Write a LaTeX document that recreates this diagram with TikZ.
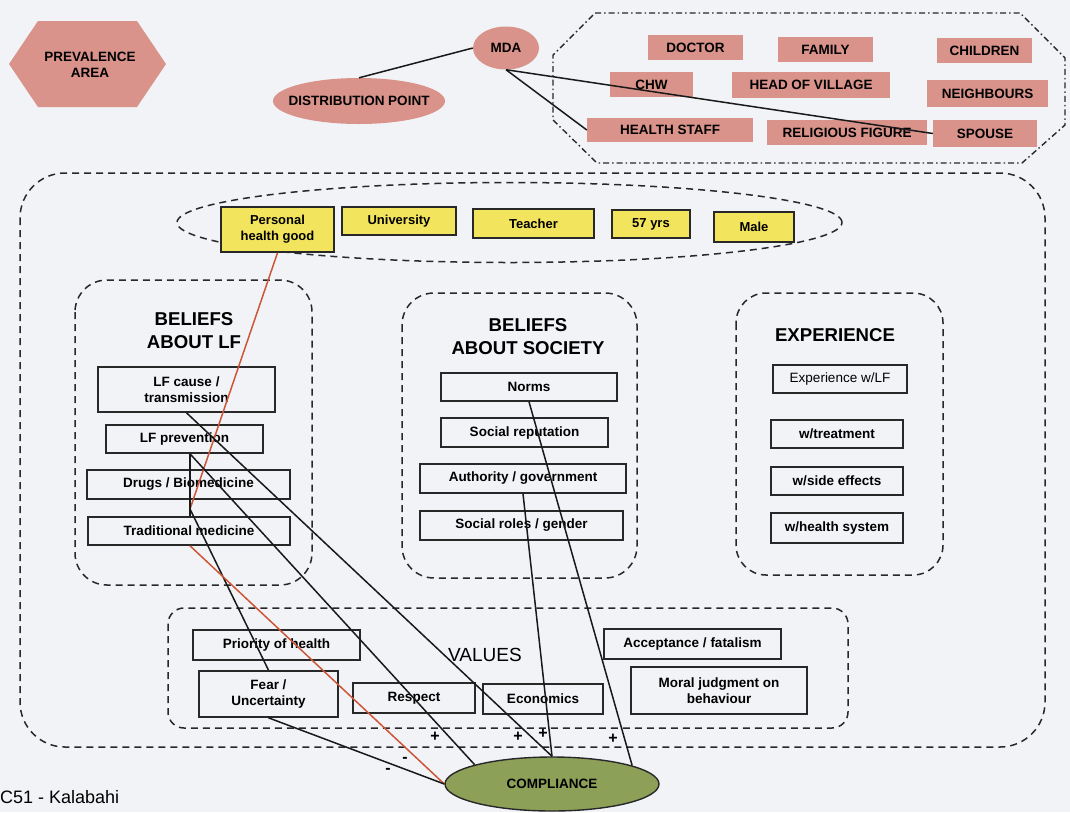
\documentclass[tikz,border=0pt]{standalone}
\usepackage{fontspec}
\setmainfont{Liberation Sans}
\usetikzlibrary{shapes.geometric}

\definecolor{paper}{RGB}{242,243,247}
\definecolor{salmon}{RGB}{217,147,139}
\definecolor{boxyellow}{RGB}{242,228,92}
\definecolor{olive}{RGB}{140,160,88}
\definecolor{redline}{RGB}{204,86,56}
\definecolor{darkline}{RGB}{40,40,40}

\begin{document}
\begin{tikzpicture}[x=1pt,y=-1pt,
  boxfont/.style={font=\fontsize{13.5}{16}\selectfont\bfseries},
  pinkbox/.style={rectangle,fill=salmon,inner sep=0pt,boxfont},
  pinkoval/.style={ellipse,fill=salmon,inner sep=0pt,boxfont},
  factbox/.style={rectangle,draw=darkline,line width=1.6pt,fill=boxyellow,inner sep=0pt,align=center,font=\fontsize{13}{16}\selectfont\bfseries},
  itembox/.style={rectangle,draw=darkline,line width=1.6pt,inner sep=0pt,align=center,boxfont},
  grpbox/.style={draw=darkline,line width=1.5pt,dash pattern=on 7pt off 5pt},
  ttl/.style={align=center,font=\fontsize{18.6}{23}\selectfont\bfseries},
  link/.style={draw=black!90,line width=1.5pt},
  redlink/.style={draw=redline,line width=1.5pt},
  sign/.style={inner sep=0pt,font=\fontsize{16}{16}\selectfont\bfseries}]
  \useasboundingbox (0,0) rectangle (1070,812);
  \fill[paper] (0,0) rectangle (1070,812);

  % top row: area, distribution, sources
  \fill[salmon] (9,64) -- (38,21) -- (137,21) -- (166,64) -- (137,107) -- (38,107) -- cycle;
  \node[align=center,boxfont] (area) at (90,65) {PREVALENCE\\AREA};
  \node[pinkoval,minimum width=172,minimum height=46,
    label={[boxfont]center:DISTRIBUTION POINT}] (distpt) at (359,101) {};
  \node[pinkoval,minimum width=66,minimum height=43] (mda) at (506,48) {MDA};
  \draw[darkline,line width=1.4pt,dash pattern=on 6pt off 3pt on 1.5pt off 3pt]
    (595,13) -- (1020,13) -- (1065,58) -- (1065,125) -- (1022,163) -- (597,163) -- (553,120) -- (553,55) -- cycle;
  \foreach \nm/\cx/\cy/\w/\h/\txt in {doctor/695.5/47.5/95/25/DOCTOR,family/825.5/49.5/95/25/FAMILY,
      children/984.5/50.5/95/25/CHILDREN,chw/651.5/84.5/83/25/CHW,head/811/85/158/26/HEAD OF VILLAGE,
      neighbours/987.5/93.5/121/27/NEIGHBOURS,healthstaff/670/130/166/24/HEALTH STAFF,
      religious/847/132.5/160/25/RELIGIOUS FIGURE,spouse/985/133.5/104/27/SPOUSE}
    \node[pinkbox,minimum width=\w,minimum height=\h] (\nm) at (\cx,\cy) {\txt};

  % frames
  \draw[grpbox,rounded corners=45] (20,173) rectangle (1045,747);
  \node[ellipse,grpbox,inner sep=0pt,minimum width=665,minimum height=80] (profile) at (509.5,222.5) {};
  \draw[grpbox,rounded corners=32] (75,280) rectangle (312,585);
  \draw[grpbox,rounded corners=32] (402,293) rectangle (637,578);
  \draw[grpbox,rounded corners=30] (736,293) rectangle (943,575);
  \draw[grpbox,rounded corners=16] (168,608) rectangle (848,728);

  % personal profile
  \node[factbox,minimum width=113,minimum height=45] (personal) at (277.5,229.5) {Personal\\health good};
  \node[factbox,minimum width=114,minimum height=28] (university) at (399,221) {University};
  \node[factbox,minimum width=121,minimum height=29] (teacher) at (533.5,223.5) {Teacher};
  \node[factbox,minimum width=78,minimum height=28] (age) at (651,224) {57 yrs};
  \node[factbox,minimum width=80,minimum height=30] (male) at (754,227) {Male};

  % beliefs about LF
  \node[ttl] (lftitle) at (194,331) {BELIEFS\\ABOUT LF};
  \node[itembox,minimum width=177,minimum height=45] (lfcause) at (186.5,389.5) {LF cause /\\transmission};
  \node[itembox,minimum width=157,minimum height=28] (prevent) at (184.5,439) {LF prevention};
  \node[itembox,minimum width=203,minimum height=29] (drugs) at (188.5,484.5) {Drugs / Biomedicine};
  \node[itembox,minimum width=202,minimum height=28] (trad) at (189,531) {Traditional medicine};

  % beliefs about society
  \node[ttl] (soctitle) at (528,337) {BELIEFS\\ABOUT SOCIETY};
  \node[itembox,minimum width=176,minimum height=28] (norms) at (529,387) {Norms};
  \node[itembox,minimum width=167,minimum height=29] (reput) at (524.5,432.5) {Social reputation};
  \node[itembox,minimum width=206,minimum height=29] (authority) at (523,478.5) {Authority / government};
  \node[itembox,minimum width=203,minimum height=29] (roles) at (521.5,525.5) {Social roles / gender};

  % experience
  \node[ttl] (exptitle) at (835,335.5) {EXPERIENCE};
  \node[itembox,minimum width=134,minimum height=28,font=\fontsize{13.5}{16}\selectfont] (explf) at (840,379) {Experience w/LF};
  \node[itembox,minimum width=132,minimum height=28] (treat) at (837,434) {w/treatment};
  \node[itembox,minimum width=132,minimum height=28] (side) at (837,481) {w/side effects};
  \node[itembox,minimum width=132,minimum height=30] (hsys) at (837,528) {w/health system};

  % values
  \node[font=\fontsize{19}{19}\selectfont] (valtitle) at (485,655) {VALUES};
  \node[itembox,minimum width=167,minimum height=30] (priority) at (276.5,645) {Priority of health};
  \node[itembox,minimum width=139,minimum height=46] (fear) at (268.5,694) {Fear /\\Uncertainty};
  \node[itembox,minimum width=122,minimum height=30] (respect) at (414,698) {Respect};
  \node[itembox,minimum width=120,minimum height=30] (econ) at (543,699) {Economics};
  \node[itembox,minimum width=177,minimum height=30] (accept) at (692.5,644) {Acceptance / fatalism};
  \node[itembox,minimum width=176,minimum height=47] (moral) at (719,690.5) {Moral judgment on\\behaviour};

  \node[ellipse,draw=darkline,line width=1.4pt,fill=olive,inner sep=0pt,boxfont,
    minimum width=214,minimum height=54] (compliance) at (552,784) {COMPLIANCE};
  \coordinate (jn) at (190,509);

  % connectors
  \draw[link] (distpt.north) -- (mda.west);
  \draw[link] (mda.south) -- (healthstaff.west);
  \draw[link] (mda.south) -- (spouse.west);
  \draw[redlink] (personal.south) -- (jn);
  \draw[link] (prevent.south -| jn) -- (trad.north -| jn);
  \draw[link] (jn) -- (fear.north);
  \draw[link] (lfcause.south) -- (compliance.north);
  \draw[link] (prevent.south -| jn) -- (compliance.166);
  \draw[redlink] (trad.south -| jn) -- (compliance.west);
  \draw[link] (fear.south) -- (compliance.west);
  \draw[link] (norms.south) -- (compliance.13);
  \draw[link] (authority.south) -- (compliance.north);

  \node[sign] (plus1) at (435,737) {+};
  \node[sign] (plus2) at (518,737) {+};
  \node[sign] (plus3) at (543,734) {+};
  \node[sign] (plus4) at (613,739) {+};
  \node[sign] (minus1) at (405,760) {-};
  \node[sign] (minus2) at (388,771) {-};

  \node[anchor=west,inner sep=0pt,font=\fontsize{18}{18}\selectfont] (case) at (0,797) {C51 - Kalabahi};
\end{tikzpicture}
\end{document}
